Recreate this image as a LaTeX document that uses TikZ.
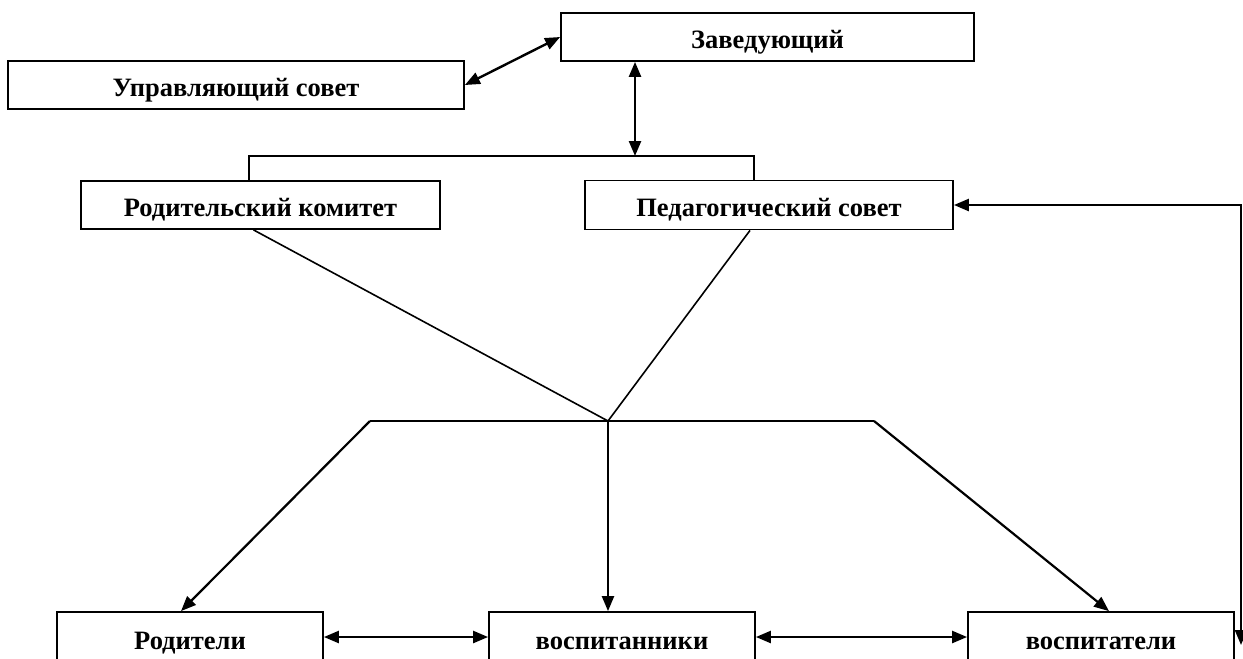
\documentclass[tikz,border=0pt]{standalone}
\usepackage{fontspec}
\setmainfont{Liberation Serif}
\usepackage{tikz}
\usetikzlibrary{positioning, calc, arrows.meta}

\begin{document}
\begin{tikzpicture}[x=1pt, y=-1pt]
  \tikzstyle{unit}=[draw, line width=1.8pt, inner sep=0pt, font=\fontsize{26.5}{30}\selectfont\bfseries, minimum height=48pt]
  \tikzstyle{upper}=[unit, text height=22pt, text depth=0pt]
  \tikzstyle{link}=[line width=1.6pt]
  \tikzstyle{arr}=[line width=2.2pt, -{Triangle[length=15pt, width=12pt]}]
  \tikzstyle{dblarr}=[line width=2.4pt, {Triangle[length=15pt, width=12pt]}-{Triangle[length=15pt, width=12pt]}]
  \clip (0,0) rectangle (1243,659);
  \fill[white] (0,0) rectangle (1243,659);

  % top level
  \node (zav) at (767.5,37) [upper, minimum width=413pt] {Заведующий};
  \node (upr) at (236,85) [upper, minimum width=456pt] {Управляющий совет};
  \draw[dblarr] (upr.east) -- (zav.west);

  % councils
  \node (rodkom) at (260.5,205) [upper, minimum width=359pt] {Родительский комитет};
  \node (ped) at (769,205) [upper, minimum width=368pt, minimum height=49pt] {Педагогический совет};
  \coordinate (brk) at (635,156);
  \coordinate (brkL) at (249,156);
  \coordinate (brkR) at (754,156);
  \draw[dblarr] (brk |- zav.south) -- (brk);
  \draw[link] (brkL |- rodkom.north) -- (brkL) -- (brkR) -- (brkR |- ped.north);

  % lower level
  \node (rod) at (190,643) [unit, minimum width=266pt, minimum height=62pt] {Родители};
  \node (vosp) at (622,643) [unit, minimum width=266pt, minimum height=62pt] {воспитанники};
  \node (vospt) at (1101,643) [unit, minimum width=266pt, minimum height=62pt] {воспитатели};

  % converging lines and branches
  \coordinate (hub) at (608,421);
  \coordinate (barL) at (370,421);
  \coordinate (barR) at (874,421);
  \draw[link] ([xshift=-7pt]rodkom.south) -- (hub) -- ([xshift=-19pt]ped.south);
  \draw[link] (barL) -- (barR);
  \draw[arr] (barL) -- ([xshift=-9pt]rod.north);
  \draw[arr] (hub) -- (hub |- vosp.north);
  \draw[arr] (barR) -- ([xshift=8pt]vospt.north);
  \draw[dblarr] ([yshift=6pt]rod.east) -- ([yshift=6pt]vosp.west);
  \draw[dblarr] ([yshift=6pt]vosp.east) -- ([yshift=6pt]vospt.west);

  % feedback line
  \coordinate (rtop) at (1241,205);
  \coordinate (rend) at (1241,645);
  \draw[dblarr] (ped.east) -- (rtop) -- (rend);
\end{tikzpicture}
\end{document}
